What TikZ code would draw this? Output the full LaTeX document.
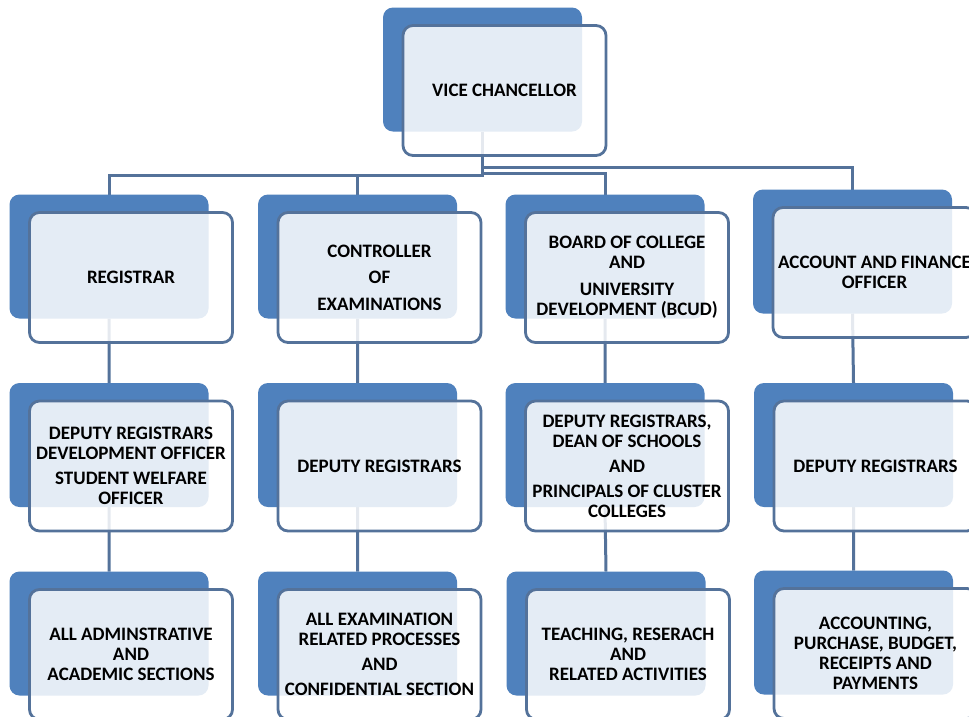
\documentclass[tikz,border=0pt]{standalone}
\usepackage{fontspec}
\setmainfont{Carlito}
\usetikzlibrary{backgrounds}
\definecolor{boxblue}{RGB}{79,129,189}
\definecolor{edgeblue}{RGB}{84,114,154}
\tikzset{
	backbox/.style={fill=boxblue, rounded corners=10pt, minimum width=199pt, minimum height=124pt, inner sep=0pt, outer sep=0pt},
	frontbox/.style={draw=edgeblue, line width=2.8pt, fill=white, fill opacity=.85, text opacity=1, rounded corners=10pt, minimum width=203pt, minimum height=130pt, inner sep=0pt, align=center, font=\bfseries\fontsize{19}{20}\selectfont},
	link/.style={draw=edgeblue, line width=3pt}
}
\begin{document}
\begin{tikzpicture}[x=1pt, y=-1pt]
	\useasboundingbox (0,0) rectangle (969,716);
	\clip (0,0) rectangle (969,716);
	% top
	\node[backbox] (VC) at (482.5,69.5) {};
	\node[frontbox] (VCf) at ([shift={(22,21)}]VC) {VICE CHANCELLOR};
	% first row
	\node[backbox] (Reg) at (109,256.5) {};
	\node[frontbox] (Regf) at ([shift={(22,21)}]Reg) {REGISTRAR};
	\node[backbox] (CoE) at (357.5,256.5) {};
	\node[frontbox] (CoEf) at ([shift={(22,21)}]CoE) {CONTROLLER\\[6pt]OF\\[7pt]EXAMINATIONS};
	\node[backbox] (BCUD) at (605,256.5) {};
	\node[frontbox] (BCUDf) at ([shift={(22,21)}]BCUD) {BOARD OF COLLEGE\\AND\\[7pt]UNIVERSITY\\DEVELOPMENT (BCUD)};
	\node[backbox] (Acc) at (852.5,251.5) {};
	\node[frontbox] (Accf) at ([shift={(22,21)}]Acc) {ACCOUNT AND FINANCE\\OFFICER};
	% second row
	\node[backbox] (RegDep) at (109,445) {};
	\node[frontbox] (RegDepf) at ([shift={(22,21)}]RegDep) {DEPUTY REGISTRARS\\DEVELOPMENT OFFICER\\[5pt]STUDENT WELFARE\\OFFICER};
	\node[backbox] (CoEDep) at (357.5,445) {};
	\node[frontbox] (CoEDepf) at ([shift={(22,21)}]CoEDep) {DEPUTY REGISTRARS};
	\node[backbox] (BCUDDep) at (605,445) {};
	\node[frontbox] (BCUDDepf) at ([shift={(22,21)}]BCUDDep) {DEPUTY REGISTRARS,\\DEAN OF SCHOOLS\\[5pt]AND\\[5pt]PRINCIPALS OF CLUSTER\\COLLEGES};
	\node[backbox] (AccDep) at (853.5,445) {};
	\node[frontbox] (AccDepf) at ([shift={(22,21)}]AccDep) {DEPUTY REGISTRARS};
	% third row
	\node[backbox] (RegSec) at (109,633.5) {};
	\node[frontbox] (RegSecf) at ([shift={(22,21)}]RegSec) {ALL ADMINSTRATIVE\\AND\\ACADEMIC SECTIONS};
	\node[backbox] (CoESec) at (357.5,633.5) {};
	\node[frontbox] (CoESecf) at ([shift={(22,21)}]CoESec) {ALL EXAMINATION\\RELATED PROCESSES\\[5pt]AND\\[5pt]CONFIDENTIAL SECTION};
	\node[backbox] (BCUDSec) at (606,633.5) {};
	\node[frontbox] (BCUDSecf) at ([shift={(22,21)}]BCUDSec) {TEACHING, RESERACH\\AND\\RELATED ACTIVITIES};
	\node[backbox] (AccSec) at (853.5,632.5) {};
	\node[frontbox] (AccSecf) at ([shift={(22,21)}]AccSec) {ACCOUNTING,\\PURCHASE, BUDGET,\\RECEIPTS AND\\PAYMENTS};
	% connectors behind the boxes
	\begin{scope}[on background layer]
	\fill[white] (0,0) rectangle (969,716);
	\draw[link] (VC.south) -- +(0,43.5) -| (Reg.north)
	(VC.south) ++(0,43.5) -| (CoE.north)
	(VC.south) ++(0,41.5) -| (BCUD.north)
	(VC.south) ++(0,35.5) -| (Acc.north);
	\draw[link] (Reg.south) -- (RegDep.north)
	(RegDep.south) -- (RegSec.north)
	(CoE.south) -- (CoEDep.north)
	(CoEDep.south) -- (CoESec.north)
	(BCUD.south) -- (BCUDDep.north)
	(BCUDDep.south) -- (BCUDSec.north)
	(Acc.south) -- (AccDep.north)
	(AccDep.south) -- (AccSec.north);
	\end{scope}
\end{tikzpicture}
\end{document}
